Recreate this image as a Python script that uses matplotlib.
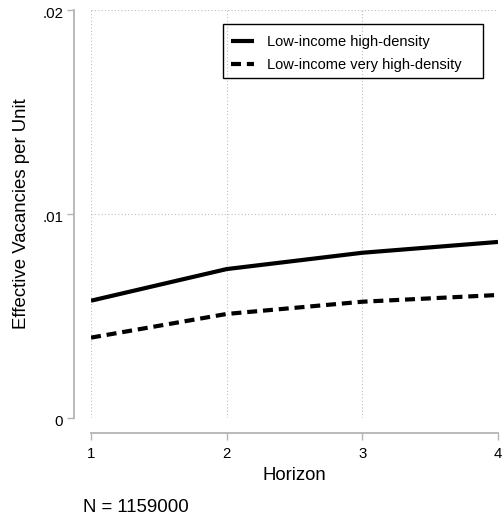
import matplotlib; matplotlib.use("Agg")
import matplotlib.pyplot as plt
import matplotlib.transforms as mtransforms
from matplotlib.patches import Rectangle

plt.rcParams["font.family"] = ["Liberation Sans", "DejaVu Sans"]

# --- data ---
horizon = [1, 2, 3, 4]
high_density = [0.00575, 0.00730, 0.00810, 0.00863]
very_high_density = [0.00394, 0.00510, 0.00570, 0.00603]
xticks = [1, 2, 3, 4]
yticks = [0, 0.01, 0.02]
ytick_labels = ["0", ".01", ".02"]

W, H = 503, 517
fig = plt.figure(figsize=(W / 100, H / 100), dpi=100)
# data region in pixels: x 91..498, y 10..418
ax = fig.add_axes([91 / W, (H - 418) / H, 407 / W, 408 / H])

ax.plot(horizon, high_density, color="black", lw=3, solid_capstyle="butt",
        label="Low-income high-density")
ax.plot(horizon, very_high_density, color="black", lw=3, ls=(0, (2.4, 1.4)),
        dash_capstyle="butt", label="Low-income very high-density")

ax.set_xlim(1, 4); ax.set_ylim(0, 0.02)
ax.set_xticks(xticks)
ax.set_yticks(yticks, ytick_labels)
ax.grid(True, ls=(0, (1, 2)), color="#bdbdbd", lw=0.8)
ax.set_axisbelow(True)
for gl in ax.get_xgridlines() + ax.get_ygridlines():
    gl.set_clip_on(False)

for s in ("top", "right"):
    ax.spines[s].set_visible(False)
ax.spines["left"].set_position(("outward", 12))
ax.spines["bottom"].set_position(("outward", 11))
for s in ("left", "bottom"):
    ax.spines[s].set_color("#b4b4b4"); ax.spines[s].set_linewidth(1.3)
ax.tick_params(axis="both", direction="out", length=5, width=1.0, color="#b4b4b4",
               labelsize=10.8, pad=5, labelcolor="black")
ax.tick_params(axis="y", pad=3)
# stata puts the y labels a touch below the tick
off = mtransforms.ScaledTranslation(0, -2.5 / 100, fig.dpi_scale_trans)
for lab in ax.get_yticklabels():
    lab.set_transform(lab.get_transform() + off)

ax.set_xlabel("Horizon", fontsize=13.4)
ax.xaxis.label.set_va("center")
ax.xaxis.set_label_coords(0.5, -57 / 408)
ax.set_ylabel("Effective Vacancies per Unit", fontsize=13.4)
ax.yaxis.label.set_va("center")
ax.yaxis.set_label_coords(-69 / 407, 0.5)

# legend: entries unframed, box drawn separately (stata pads the right side more)
leg = ax.legend(loc="center left", bbox_to_anchor=(231 / W, 1 - 53.3 / H),
                bbox_transform=fig.transFigure, frameon=False,
                fontsize=10.5, handlelength=1.6, handletextpad=0.9, borderpad=0,
                labelspacing=0.62, borderaxespad=0)
fig.patches.append(Rectangle((223 / W, 1 - 78 / H), 260 / W, 54 / H, transform=fig.transFigure,
                             fill=False, edgecolor="black", lw=1.0))

fig.text(83 / W, 1 - 507 / H, "N = 1159000", fontsize=13.4, va="center", ha="left")

fig.savefig("out.png", dpi=100)
